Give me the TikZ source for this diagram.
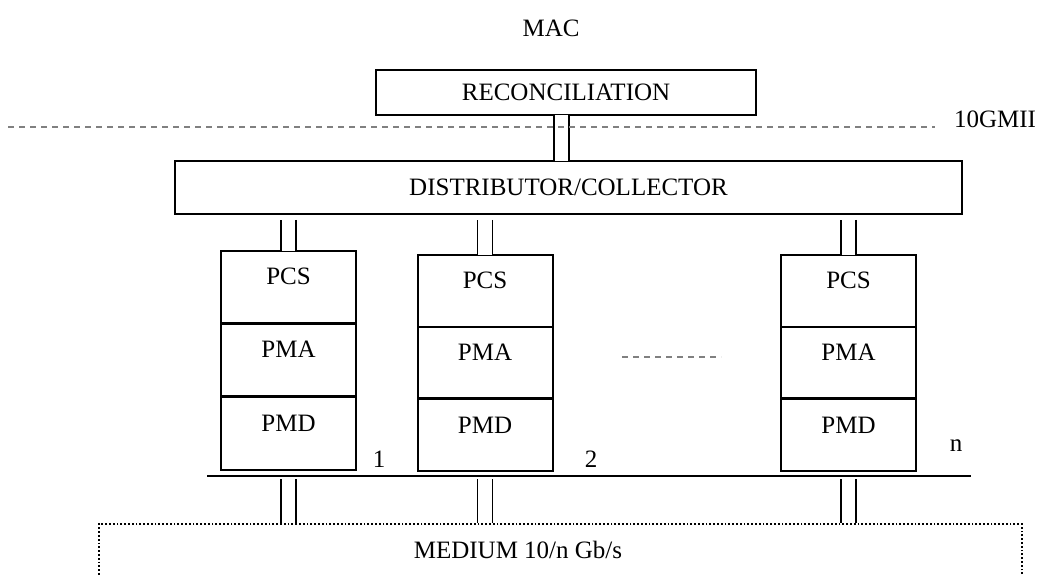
\documentclass[tikz,border=0pt]{standalone}
\usepackage{fontspec}
\setmainfont{Liberation Serif}
\usetikzlibrary{positioning}
\tikzset{
  layerbox/.style={draw, line width=1pt, inner sep=0pt, outer sep=0pt},
  cell/.style={layerbox, minimum width=67.5pt, text height=17pt, text depth=19pt},
  pair/.style={double, line width=0.9pt, double distance=6.6pt},
  gapline/.style={gray, line width=0.7pt, dash pattern=on 3pt off 2.5pt}
}
\begin{document}
\begin{tikzpicture}[x=0.5pt, y=-0.5pt, font=\fontsize{12.5}{15}\selectfont]
  \clip (0,0) rectangle (1037,576);
  % top layers
  \node (mac) at (551,28) {MAC};
  \node[layerbox, minimum width=190pt, minimum height=22.5pt] (recon) at (566,92.5) {RECONCILIATION};
  \node[layerbox, minimum width=393.5pt, minimum height=26.5pt] (dist) at (568.5,187.5) {DISTRIBUTOR/COLLECTOR};
  \node (xgmii) at (995,119) {10GMII};
  \coordinate (rc) at ([xshift=-2.25pt]recon.south);
  \draw[pair] (rc) -- (rc |- dist.north);
  \draw[gapline] (8,127) -- (935,127);
  % lane 1
  \node[cell, text depth=19.5pt, anchor=north] (pcs1) at (288.5,251) {PCS};
  \node[cell, text depth=19.5pt, below=0pt of pcs1] (pma1) {PMA};
  \node[cell, text depth=19.5pt, below=0pt of pma1] (pmd1) {PMD};
  \draw[line width=1.5pt] (pcs1.south west) -- (pcs1.south east);
  \draw[line width=1.5pt] (pma1.south west) -- (pma1.south east);
  % lane 2
  \node[cell, anchor=north] (pcs2) at (485,255) {PCS};
  \node[cell, below=0pt of pcs2] (pma2) {PMA};
  \node[cell, below=0pt of pma2] (pmd2) {PMD};
  \draw[line width=1.5pt] (pma2.south west) -- (pma2.south east);
  % lane n
  \node[cell, anchor=north] (pcsn) at (848.5,255) {PCS};
  \node[cell, below=0pt of pcsn] (pman) {PMA};
  \node[cell, below=0pt of pman] (pmdn) {PMD};
  \draw[line width=1.5pt] (pman.south west) -- (pman.south east);
  \draw[gapline] (622,357) -- (721,357);
  % lane numbers
  \node (num1) at (379,459) {1};
  \node (num2) at (591,459) {2};
  \node (numn) at (956,446) {n};
  % bus and medium
  \coordinate (busL) at (207,476);
  \coordinate (busR) at (971,476);
  \draw[line width=1pt] (busL) -- (busR);
  \node[draw, densely dotted, line width=0.9pt, minimum width=461.5pt, minimum height=50pt] (medium) at (560.5,574) {};
  \node (medtext) at (518,550) {MEDIUM 10/n Gb/s};
  % connectors
  \foreach \lane in {1,2,n}{
    \draw[pair, shorten <=3pt] (dist.south -| pcs\lane.north) -- (pcs\lane.north);
    \draw[pair, shorten <=1.5pt] (pmd\lane.south |- busL) -- (pmd\lane.south |- medium.north);
  }
\end{tikzpicture}
\end{document}
